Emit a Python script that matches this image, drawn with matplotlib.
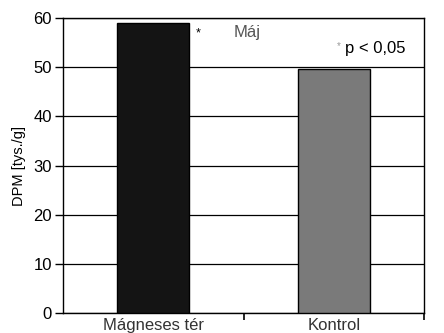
import matplotlib.pyplot as plt

# DPM values
categories = ["Mágneses tér", "Kontrol"]
values = [59.0, 49.6]
bar_colors = ["#141414", "#7a7a7a"]
y_ticks = [0, 10, 20, 30, 40, 50, 60]

plt.rcParams["font.family"] = ["Liberation Sans", "DejaVu Sans"]

fig = plt.figure(figsize=(4.44, 3.33), dpi=100)
ax = fig.add_axes([63 / 444, 20 / 333, 361 / 444, 295 / 333])

pos = list(range(len(categories)))
ax.bar(pos, values, width=0.4, color=bar_colors, edgecolor="black",
       linewidth=1.0, zorder=3)

ax.set_xlim(-0.5, 1.5)
ax.set_ylim(0, 60)
ax.set_yticks(y_ticks)
ax.tick_params(axis="y", labelsize=12, length=6, width=1, direction="out",
               pad=2, colors="black")
ax.yaxis.grid(True, color="black", linewidth=0.9, zorder=1)

# category labels centered on bars, tick marks between categories
ax.set_xticks([0.5, 1.5])
ax.set_xticklabels(["", ""])
ax.tick_params(axis="x", length=5, width=1.2, direction="out")
for p, lab in zip(pos, categories):
    ax.text(p, -1.0, lab, ha="center", va="top", fontsize=12,
            color="#333333", transform=ax.transData)

for s in ax.spines.values():
    s.set_linewidth(1.0)

ax.set_ylabel("DPM [tys./g]", fontsize=10.5, labelpad=5)

ax.text(0.25, 56.8, "*", ha="center", va="center", fontsize=9)
ax.text(0.52, 57.0, "Máj", ha="center", va="center", fontsize=12,
        color="#555555")
ax.text(1.03, 54.2, "*", ha="center", va="center", fontsize=7,
        color="#999999")
ax.text(1.06, 53.8, "p < 0,05", ha="left", va="center", fontsize=12)

fig.savefig("out.png", dpi=100)
